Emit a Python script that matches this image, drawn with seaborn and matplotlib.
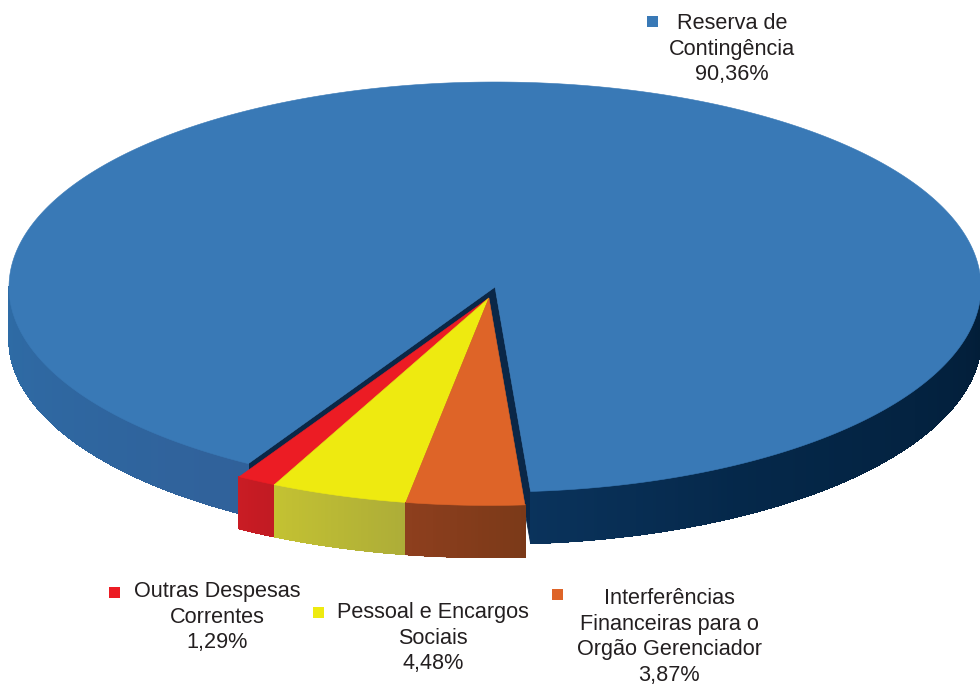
import numpy as np
import matplotlib
matplotlib.use("Agg")
import matplotlib.pyplot as plt
import seaborn as sns
from matplotlib.patches import Polygon, Rectangle
from matplotlib.collections import PolyCollection, LineCollection
import matplotlib.colors as mcolors

# ---------------- data ----------------
categories = ["Reserva de Contingência", "Outras Despesas Correntes",
              "Pessoal e Encargos Sociais",
              "Interferências Financeiras para o Orgão Gerenciador"]
label_lines = [["Reserva de", "Contingência"],
               ["Outras Despesas", "Correntes"],
               ["Pessoal e Encargos", "Sociais"],
               ["Interferências", "Financeiras para o", "Orgão Gerenciador"]]
percentages = [90.36, 1.29, 4.48, 3.87]

# ---------------- style / layout ----------------
top_colors = ["#3979B6", "#EC1C24", "#EEEA10", "#DE6428"]
side_stops = [
    [(180, "#2E6CA6"), (240, "#30619A"), (274, "#0A335C"), (300, "#05284A"), (360, "#021D37")],
    [(239, "#CA1C24"), (246, "#BE1A22")],
    [(244, "#C4C232"), (261, "#ACAC38")],
    [(260, "#8E3F1E"), (275, "#7A3918")],
]
cut_color = "#0A2747"
explode = [0.0, 0.055, 0.055, 0.055]
CX, CY, RX, RY, DEPTH = 495.0, 287.0, 486.0, 205.0, 52.0
START = -85.8
GROUP_SCALE = 1.012   # slight perspective enlargement of the pulled-out slices

label_cx = [732, 217, 433, 669]
label_base = [29, 597, 618, 604]
marker_c = [(652.5, 21), (114, 592), (318, 612.5), (557.5, 594.5)]
LINE_STEP = 25.6
FONT = ["Liberation Sans", "DejaVu Sans"]

sns.set_theme(style="white")
plt.rcParams["font.family"] = FONT

fig = plt.figure(figsize=(9.8, 6.86), dpi=100)
ax = fig.add_axes([0, 0, 1, 1])
ax.set_xlim(0, 980)
ax.set_ylim(686, 0)
ax.axis("off")

vals = np.array(percentages)
frac = vals / vals.sum()
bounds = START + 360 * np.concatenate([[0], np.cumsum(frac)])

exp_idx = [i for i, e in enumerate(explode) if e > 0]
grp_mid = np.deg2rad((bounds[exp_idx[0]] + bounds[exp_idx[-1] + 1]) / 2)


def geom(i):
    e = explode[i]
    sc = GROUP_SCALE if e > 0 else 1.0
    return e * RX * np.cos(grp_mid), -e * RY * np.sin(grp_mid), sc


def pts(tdeg, dx, dy, sc=1.0, z=0.0):
    t = np.deg2rad(tdeg)
    return CX + sc * RX * np.cos(t) + dx, CY - sc * RY * np.sin(t) + dy + z


def side_color(i, tdeg):
    a = tdeg % 360
    st = side_stops[i]
    angs = [s[0] for s in st]
    cols = np.array([mcolors.to_rgb(s[1]) for s in st])
    return tuple(np.interp(a, angs, cols[:, k]) for k in range(3))


def visible_intervals(a0, a1):
    out = []
    for k in range(-2, 3):
        lo, hi = 180 + 360 * k, 360 + 360 * k
        s, e = max(a0, lo), min(a1, hi)
        if e > s:
            out.append((s, e))
    return out


for i in range(len(vals)):
    a0, a1 = bounds[i], bounds[i + 1]
    dx, dy, sc = geom(i)
    cxo, cyo = CX + dx, CY + dy
    # cut faces
    for edge, vis in ((a0, np.cos(np.deg2rad(a0)) > 0), (a1, np.cos(np.deg2rad(a1)) < 0)):
        if vis:
            x, y = pts(edge, dx, dy, sc)
            poly = [(cxo, cyo), (x, y), (x, y + DEPTH), (cxo, cyo + DEPTH)]
            ax.add_patch(Polygon(poly, closed=True, facecolor=cut_color,
                                 edgecolor=cut_color, lw=0.6, zorder=i * 3 + 1))
    # side walls (gradient strips)
    quads, cols, segs, scols = [], [], [], []
    for s, e in visible_intervals(a0, a1):
        n = max(2, int((e - s) / 0.4))
        ts = np.linspace(s, e, n + 1)
        for j in range(n):
            xa, ya = pts(ts[j], dx, dy, sc)
            xb, yb = pts(ts[j + 1], dx, dy, sc)
            c = side_color(i, (ts[j] + ts[j + 1]) / 2)
            quads.append([(xa, ya), (xb, yb), (xb, yb + DEPTH), (xa, ya + DEPTH)])
            cols.append(c)
            segs.append([(xa, ya + DEPTH), (xb, yb + DEPTH)])
            scols.append(c)
    if quads:
        ax.add_collection(PolyCollection(quads, facecolors=cols, edgecolors=cols,
                                         linewidths=0.5, antialiaseds=False,
                                         zorder=i * 3 + 2))
        ax.add_collection(LineCollection(segs, colors=scols, linewidths=0.8,
                                         antialiaseds=True, zorder=i * 3 + 2))
    # top face
    ts = np.linspace(a0, a1, max(3, int((a1 - a0) / 0.4)))
    xs, ys = pts(ts, dx, dy, sc)
    poly = [(cxo, cyo)] + list(zip(xs, ys))
    ax.add_patch(Polygon(poly, closed=True, facecolor=top_colors[i],
                         edgecolor=top_colors[i], lw=0.4, zorder=i * 3 + 3))

# labels with square markers
for i in range(len(vals)):
    lines = label_lines[i] + [f"{percentages[i]:.2f}".replace(".", ",") + "%"]
    for k, ln in enumerate(lines):
        ax.text(label_cx[i], label_base[i] + k * LINE_STEP, ln, ha="center",
                va="baseline", fontsize=15.6, color="#231F20", family=FONT, zorder=20)
    mx, my = marker_c[i]
    ax.add_patch(Rectangle((mx - 5.5, my - 5.5), 11, 11, facecolor=top_colors[i],
                           edgecolor="none", zorder=20))

fig.savefig("out.png", dpi=100)
